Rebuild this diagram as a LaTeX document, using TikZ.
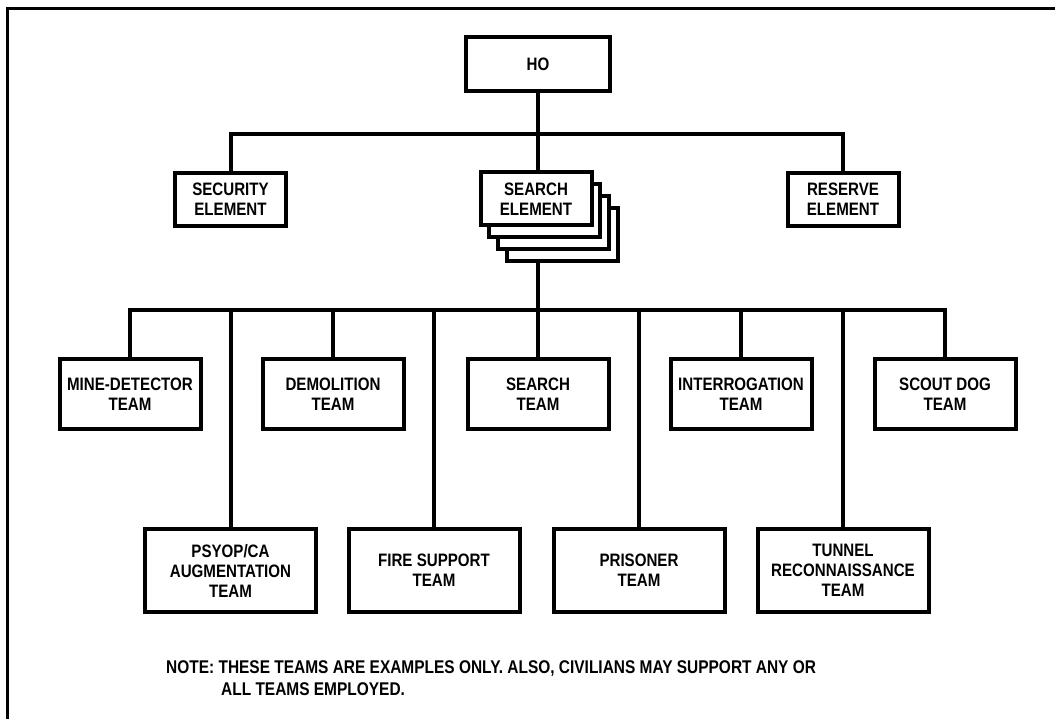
\documentclass[tikz,border=0pt]{standalone}
\usepackage{fontspec}
\setmainfont{Liberation Sans}[FakeStretch=0.84]

\begin{document}
\begin{tikzpicture}[
    x=1pt, y=-1pt,
    every node/.style={font=\fontsize{18}{20}\selectfont\bfseries},
    unit/.style={rectangle, draw, line width=4pt, fill=white, align=center, inner sep=0pt},
    hq/.style={unit, minimum width=144pt, minimum height=54pt},
    element/.style={unit, minimum width=111pt, minimum height=53pt},
    team/.style={unit, minimum width=141pt, minimum height=70pt},
    lowteam/.style={unit, minimum width=171pt, minimum height=83pt},
    link/.style={line width=4pt},
    note/.style={align=left, inner sep=0pt, anchor=north west, font=\fontsize{18.4}{20}\selectfont\bfseries}
]
\useasboundingbox (0,0) rectangle (1055,719);

% Frame
\draw[line width=3.5pt] (1055,8.5) -- (7.5,8.5) -- (7.5,719);

% Headquarters
\node[hq] (HQ) at (538,64) {HO};

% Elements (search element is a stack of cards)
\node[element] (Security) at (230.5,199.5) {SECURITY\\ELEMENT};
\node[element] (SearchElC) at (562,235) {};
\node[element] (SearchElB) at (553,223) {};
\node[element] (SearchElA) at (544,211) {};
\node[element] (SearchEl) at (536,199) {SEARCH\\ELEMENT};
\node[element] (Reserve) at (843,199.5) {RESERVE\\ELEMENT};

% Teams, upper row
\node[team] (MineDet) at (130,394) {MINE-DETECTOR\\TEAM};
\node[team] (Demolition) at (333,394) {DEMOLITION\\TEAM};
\node[team] (SearchTeam) at (538,394) {SEARCH\\TEAM};
\node[team] (Interrogation) at (741,394) {INTERROGATION\\TEAM};
\node[team] (ScoutDog) at (945,394) {SCOUT DOG\\TEAM};

% Teams, lower row
\node[lowteam] (Psyop) at (230.5,570.5) {PSYOP/CA\\AUGMENTATION\\TEAM};
\node[lowteam] (FireSupport) at (434,570.5) {FIRE SUPPORT\\TEAM};
\node[lowteam] (Prisoner) at (639,570.5) {PRISONER\\TEAM};
\node[lowteam] (Tunnel) at (843,570.5) {TUNNEL\\RECONNAISSANCE\\TEAM};

% Connectors
\draw[link] (HQ.south) -- (HQ.south |- SearchEl.north);
\draw[link] (Security.north) -- ++(0,-37) -| (Reserve.north);

\coordinate (bus) at (538,310);
\draw[link] (HQ.south |- SearchElC.south) -- (SearchTeam.north);
\draw[link] (MineDet.north) -- ++(0,-47) -| (ScoutDog.north);
\draw[link] (Demolition.north) -- (Demolition.north |- bus);
\draw[link] (Interrogation.north) -- (Interrogation.north |- bus);
\draw[link] (Psyop.north) -- (Psyop.north |- bus);
\draw[link] (FireSupport.north) -- (FireSupport.north |- bus);
\draw[link] (Prisoner.north) -- (Prisoner.north |- bus);
\draw[link] (Tunnel.north) -- (Tunnel.north |- bus);

% Note
\node[note] (Note) at (166,660) {NOTE: THESE TEAMS ARE EXAMPLES ONLY. ALSO, CIVILIANS MAY SUPPORT ANY OR\\[2pt]
    \hspace*{55pt}ALL TEAMS EMPLOYED.};

\end{tikzpicture}
\end{document}
